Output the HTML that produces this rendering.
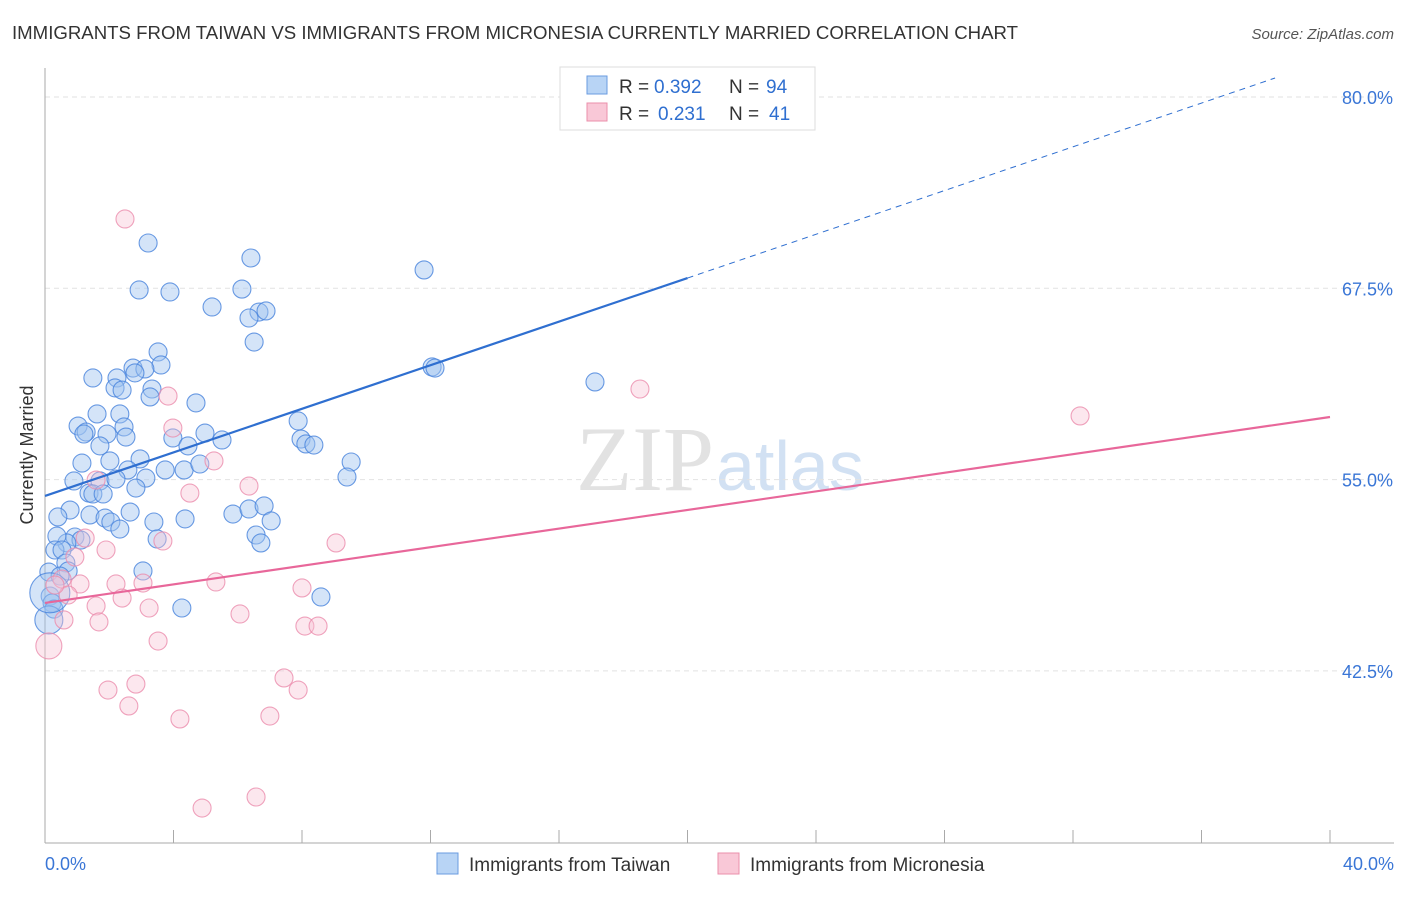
<!DOCTYPE html>
<html><head><meta charset="utf-8"><style>
body{margin:0;background:#fff;font-family:"Liberation Sans",sans-serif;}
</style></head><body>
<svg id="chart" width="1406" height="892" xmlns="http://www.w3.org/2000/svg">
<text x="12" y="39" font-size="18" fill="#333" textLength="1006" lengthAdjust="spacingAndGlyphs">IMMIGRANTS FROM TAIWAN VS IMMIGRANTS FROM MICRONESIA CURRENTLY MARRIED CORRELATION CHART</text>
<text x="1394" y="39" font-size="15" fill="#555" font-style="italic" text-anchor="end">Source: ZipAtlas.com</text>
<text x="714" y="490" font-size="92" fill="#e2e2e2" text-anchor="end" font-family="Liberation Serif,serif">ZIP</text>
<text x="716" y="490" font-size="70" fill="#d2e1f3">atlas</text>
<text transform="translate(33,455) rotate(-90)" font-size="18" fill="#333" text-anchor="middle">Currently Married</text>
<g id="grid"></g><g id="axes"></g><g id="pts"></g><g id="lines"></g>
<g>
<rect x="560" y="67" width="255" height="63" fill="#fff" stroke="#ddd"/>
<rect x="587" y="76" width="20" height="18" fill="#b8d4f5" stroke="#6a9be0"/>
<rect x="587" y="103" width="20" height="18" fill="#f9c8d7" stroke="#eb8fab"/>
<text x="619" y="93" font-size="19" fill="#333">R =</text><text x="654" y="93" font-size="19" fill="#2f6fd0">0.392</text>
<text x="729" y="93" font-size="19" fill="#333">N =</text><text x="766" y="93" font-size="19" fill="#2f6fd0">94</text>
<text x="619" y="120" font-size="19" fill="#333">R =</text><text x="658" y="120" font-size="19" fill="#2f6fd0">0.231</text>
<text x="729" y="120" font-size="19" fill="#333">N =</text><text x="769" y="120" font-size="19" fill="#2f6fd0">41</text>
</g>
<g>
<rect x="437" y="853" width="21" height="21" fill="#b8d4f5" stroke="#6a9be0"/>
<text x="469" y="871" font-size="19" fill="#333">Immigrants from Taiwan</text>
<rect x="718" y="853" width="21" height="21" fill="#f9c8d7" stroke="#eb8fab"/>
<text x="750" y="871" font-size="19" fill="#333">Immigrants from Micronesia</text>
</g>
</svg>
<script>
const blueX=[3.21,6.41,11.80,2.93,3.89,6.13,5.20,6.66,6.88,6.35,6.51,3.52,3.61,2.74,3.11,2.80,1.49,2.24,2.18,2.40,3.33,3.27,12.05,12.14,17.12,4.70,1.62,2.33,1.03,1.28,1.21,2.46,1.93,2.52,1.71,3.98,4.45,4.98,5.51,7.88,7.97,8.12,8.37,1.15,2.02,2.96,2.58,3.74,4.33,4.82,9.53,9.40,0.90,1.71,2.21,3.14,1.37,1.49,1.81,2.83,0.78,0.40,1.40,1.87,2.05,2.65,3.39,4.36,5.85,6.35,6.82,7.04,2.33,6.57,6.72,3.49,0.93,1.12,0.68,0.37,0.31,0.53,0.65,0.72,3.05,0.12,0.47,8.59,4.26,0.16,0.22,0.28,0.12,0.15];
const blueY=[70.46,69.48,68.70,67.39,67.26,67.45,66.28,65.95,66.02,65.56,63.99,63.34,62.49,62.29,62.23,61.97,61.64,61.64,60.99,60.85,60.92,60.40,62.36,62.29,61.38,60.01,59.29,59.29,58.50,58.11,57.98,58.44,57.98,57.78,57.20,57.72,57.20,58.04,57.59,58.83,57.65,57.33,57.26,56.08,56.22,56.35,55.63,55.63,55.63,56.02,56.15,55.17,54.91,54.91,55.04,55.10,54.12,54.06,54.06,54.45,53.01,52.56,52.69,52.49,52.23,52.88,52.23,52.43,52.75,53.08,53.28,52.30,51.77,51.38,50.86,51.12,51.25,51.05,50.86,51.31,50.40,50.40,49.55,49.03,49.03,48.96,48.70,47.33,46.61,47.39,46.94,46.54,45.83,47.6];
const blueR=[9,9,9,9,9,9,9,9,9,9,9,9,9,9,9,9,9,9,9,9,9,9,9,9,9,9,9,9,9,9,9,9,9,9,9,9,9,9,9,9,9,9,9,9,9,9,9,9,9,9,9,9,9,9,9,9,9,9,9,9,9,9,9,9,9,9,9,9,9,9,9,9,9,9,9,9,9,9,9,9,9,9,9,9,9,9,9,9,9,9,9,9,14,20];
const pinkX=[2.49,3.83,18.52,32.22,3.98,5.26,6.35,4.51,1.59,9.06,3.67,1.90,1.25,0.93,0.53,1.09,2.21,3.05,5.32,8.00,0.72,2.40,1.59,3.24,6.07,1.68,0.59,8.09,8.50,3.52,0.12,7.44,2.83,1.96,7.88,2.61,4.20,7.00,4.89,6.57,0.31];
const pinkY=[72.03,60.46,60.92,59.16,58.37,56.22,54.58,54.12,54.97,50.86,50.99,50.40,51.18,49.94,48.50,48.18,48.18,48.24,48.31,47.92,47.46,47.26,46.74,46.61,46.22,45.70,45.83,45.43,45.43,44.45,44.13,42.04,41.64,41.25,41.25,40.21,39.36,39.55,33.54,34.26,48.11];
const yTicks=[80,67.5,55,42.5];
const blueLine=[53.93,68.17,81.24]; // at x=0,20,38.29
const pinkLine=[46.94,59.09]; // at x=0,40
const NS="http://www.w3.org/2000/svg";
const sx=v=>45+v/40*1285, sy=v=>97+(80-v)*15.304;
function mk(t,a,p){const e=document.createElementNS(NS,t);for(const k in a)e.setAttribute(k,a[k]);p.appendChild(e);return e;}
const grid=document.getElementById('grid'),axes=document.getElementById('axes'),pts=document.getElementById('pts'),lines=document.getElementById('lines');
yTicks.forEach(v=>{const l=mk('line',{x1:45,x2:1394,y1:sy(v),y2:sy(v),stroke:'#e2e2e2','stroke-dasharray':'5,4'},grid);


const t=mk('text',{x:1393,y:sy(v)+7,'font-size':18,fill:'#3a76d6','text-anchor':'end'},grid);t.textContent=v.toFixed(1)+'%';

});
mk('line',{x1:45,x2:45,y1:68,y2:843,stroke:'#aaa'},axes);
mk('line',{x1:45,x2:1394,y1:843,y2:843,stroke:'#aaa'},axes);
for(let i=0;i<=10;i++){const l=mk('line',{x1:sx(i*4),x2:sx(i*4),y1:830,y2:843,stroke:'#aaa'},axes);

}
[[0,'0.0%','start',45],[40,'40.0%','end',1394]].forEach(d=>{const t=mk('text',{x:d[3],y:870,'font-size':18,fill:'#3a76d6','text-anchor':d[2]},axes);t.textContent=d[1];

});
blueX.forEach((x,i)=>{const c=mk('circle',{cx:sx(x),cy:sy(blueY[i]),r:blueR[i],fill:'rgba(160,196,240,0.45)',stroke:'rgba(70,130,220,0.8)','stroke-width':1.1},pts);

});
pinkX.forEach((x,i)=>{const c=mk('circle',{cx:sx(x),cy:sy(pinkY[i]),r:i==30?13:9,fill:'rgba(248,196,212,0.4)',stroke:'rgba(235,140,172,0.8)','stroke-width':1.1},pts);

});
let l=mk('line',{x1:sx(0),y1:sy(blueLine[0]),x2:sx(20),y2:sy(blueLine[1]),stroke:'#2f6fd0','stroke-width':2.2},lines);


l=mk('line',{x1:sx(20),y1:sy(blueLine[1]),x2:sx(38.29),y2:sy(blueLine[2]),stroke:'#2f6fd0','stroke-width':1,'stroke-dasharray':'6,5'},lines);


l=mk('line',{x1:sx(0),y1:sy(pinkLine[0]),x2:sx(40),y2:sy(pinkLine[1]),stroke:'#e8679a','stroke-width':2.2},lines);


</script>
</body></html>
